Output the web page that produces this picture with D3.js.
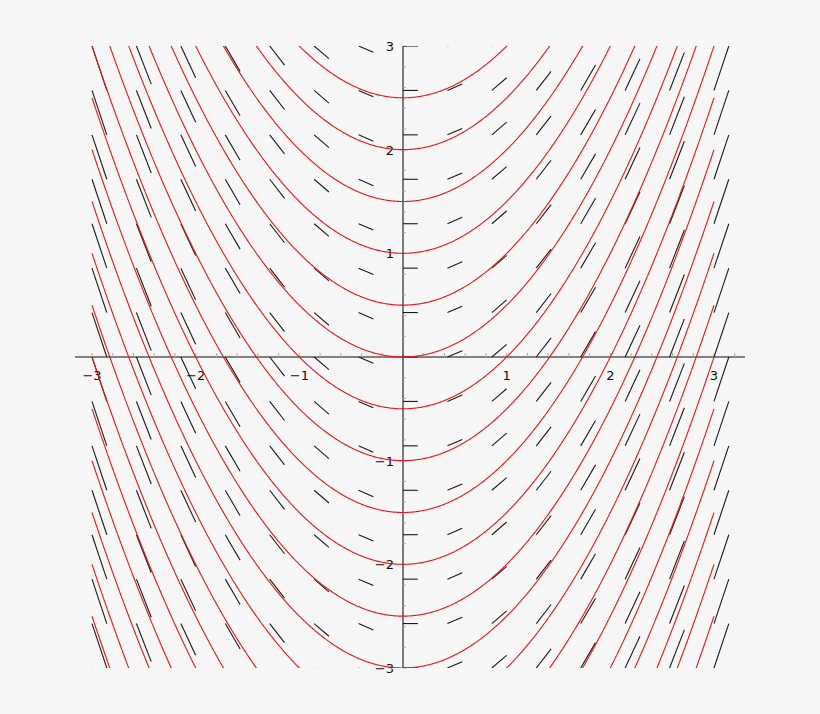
<!DOCTYPE html>
<html>
<head>
<meta charset="utf-8">
<script src="https://cdn.jsdelivr.net/npm/d3@7"></script>
<style>
  html, body { margin: 0; padding: 0; background: #f6f6f6; }
  svg { display: block; }
  text { font-family: "DejaVu Sans", sans-serif; font-size: 13px; fill: #111; }
</style>
</head>
<body>
<svg id="chart" width="820" height="714"></svg>
<script>
// slope field dy/dx = x, solutions y = x^2/2 + C
const gridX = [-3, -2.5714, -2.1429, -1.7143, -1.2857, -0.8571, -0.4286, 0, 0.4286, 0.8571, 1.2857, 1.7143, 2.1429, 2.5714, 3]
const gridY = [-3, -2.5714, -2.1429, -1.7143, -1.2857, -0.8571, -0.4286, 0, 0.4286, 0.8571, 1.2857, 1.7143, 2.1429, 2.5714, 3]
const offsets = [-7.5, -7, -6.5, -6, -5.5, -5, -4.5, -4, -3.5, -3, -2.5, -2, -1.5, -1, -0.5, 0, 0.5, 1, 1.5, 2, 2.5]
const xTickLabels = [-3, -2, -1, 1, 2, 3]
const yTickLabels = [-3, -2, -1, 1, 2, 3]
const step = 1 / 7

let svg = d3.select('#chart')

let x = d3.scaleLinear()
    .domain([-3, 3])
    .range([92, 714])

let y = d3.scaleLinear()
    .domain([-3, 3])
    .range([668, 46])

let fmt = d => d < 0 ? '\u2212' + Math.abs(d) : '' + d

svg.append('defs').append('clipPath')
    .attr('id', 'clip')
  .append('rect')
    .attr('x', 0)
    .attr('y', y(3))
    .attr('width', 820)
    .attr('height', y(-3) - y(3))

// x axis
svg.append('line')
    .attr('x1', 75).attr('x2', 745)
    .attr('y1', y(0)).attr('y2', y(0))
    .attr('stroke', '#808080')
    .attr('stroke-width', 2)

let xMinor = d3.range(-15, 17).map(i => i / 5)
svg.append('g').selectAll('line')
    .data(xMinor)
    .join('line')
    .attr('x1', d => x(d)).attr('x2', d => x(d))
    .attr('y1', y(0) - 4).attr('y2', y(0))
    .attr('stroke', '#aaa')
    .attr('stroke-width', 1)

svg.append('g').selectAll('text')
    .data(xTickLabels)
    .join('text')
    .attr('x', d => x(d))
    .attr('y', y(0) + 23)
    .attr('text-anchor', 'middle')
    .text(fmt)

// y axis
svg.append('line')
    .attr('x1', x(0)).attr('x2', x(0))
    .attr('y1', y(3)).attr('y2', y(-3))
    .attr('stroke', '#000')
    .attr('stroke-width', 1)

let yMinor = d3.range(-15, 16).map(i => i / 5)
svg.append('g').selectAll('line')
    .data(yMinor)
    .join('line')
    .attr('x1', x(0)).attr('x2', x(0) + 3)
    .attr('y1', d => y(d)).attr('y2', d => y(d))
    .attr('stroke', '#aaa')
    .attr('stroke-width', 1)

svg.append('g').selectAll('text')
    .data(yTickLabels)
    .join('text')
    .attr('x', x(0) - 9)
    .attr('y', d => y(d) + 5)
    .attr('text-anchor', 'end')
    .text(fmt)

// slope segments
let cells = []
gridX.forEach(gx => gridY.forEach(gy => cells.push({x: gx, y: gy})))

svg.append('g')
    .attr('clip-path', 'url(#clip)')
  .selectAll('line')
    .data(cells)
    .join('line')
    .attr('x1', d => x(d.x))
    .attr('y1', d => y(d.y))
    .attr('x2', d => x(d.x + step))
    .attr('y2', d => y(d.y + step * d.x))
    .attr('stroke', '#1a1a1a')
    .attr('stroke-width', 1.1)

// solution curves
let line = d3.line()
    .x(d => x(d[0]))
    .y(d => y(d[1]))

let xs = d3.range(-300, 301).map(i => i / 100)

svg.append('g')
    .attr('clip-path', 'url(#clip)')
  .selectAll('path')
    .data(offsets)
    .join('path')
    .attr('d', c => line(xs.map(v => [v, v * v / 2 + c])))
    .attr('fill', 'none')
    .attr('stroke', '#e8161a')
    .attr('stroke-width', 1.1)
</script>
</body>
</html>
